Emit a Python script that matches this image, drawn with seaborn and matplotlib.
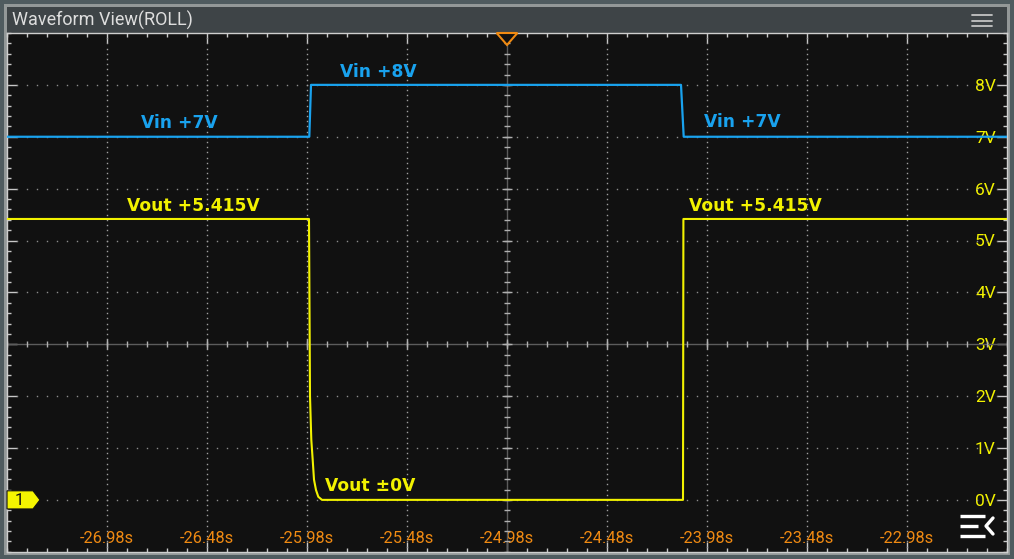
import numpy as np
import pandas as pd
import matplotlib.pyplot as plt
import seaborn as sns
from matplotlib.patches import Rectangle, Polygon
from matplotlib.lines import Line2D

# Trace breakpoints (time in s, level in V)
vin_time = [-27.48, -25.9685, -25.960, -24.110, -24.0965, -22.48]
vin_volts = [7.0, 7.0, 8.0, 8.0, 7.0, 7.0]

vout_time = [-27.48, -25.970, -25.965, -25.9585, -25.9515, -25.945,
             -25.935, -25.9235, -25.905, -24.100, -24.098, -22.48]
vout_volts = [5.415, 5.415, 2.0, 1.16, 0.77, 0.39,
              0.19, 0.06, 0.0, 0.0, 5.415, 5.415]

x_tick_values = [-26.98, -26.48, -25.98, -25.48, -24.98, -24.48, -23.98, -23.48, -22.98]
x_tick_labels = ["-26.98s", "-26.48s", "-25.98s", "-25.48s", "-24.98s",
                 "-24.48s", "-23.98s", "-23.48s", "-22.98s"]
y_tick_values = [0, 1, 2, 3, 4, 5, 6, 7, 8]
y_tick_labels = ["0V", "1V", "2V", "3V", "4V", "5V", "6V", "7V", "8V"]

T_MIN, T_MAX = -27.48, -22.48
V_MIN, V_MAX = -1.0, 9.0
T_CENTER, V_CENTER = -24.98, 3.0

VIN_COLOR = "#19a2ee"
VOUT_COLOR = "#f2f200"
TICK_ORANGE = "#f08a12"
GRID_GRAY = "#8c8c8c"

sns.set_theme(style="dark")
plt.rcParams["font.family"] = ["Roboto", "DejaVu Sans"]

W, H = 1014, 559


def fx(p):
    return p / W


def fy(p):
    return 1 - p / H


fig = plt.figure(figsize=(W / 100, H / 100), dpi=100, facecolor="#4f5b5f")

# screen frame + title bar (kept behind the axes)
fig.patches.append(Rectangle((fx(4), fy(555)), 1006 / W, 551 / H, transform=fig.transFigure,
                             facecolor="#939898", edgecolor="none", zorder=-3))
fig.patches.append(Rectangle((fx(7), fy(33)), 1000 / W, 26 / H, transform=fig.transFigure,
                             facecolor="#3e4447", edgecolor="none", zorder=-2))
fig.text(fx(12), fy(20), "Waveform View(ROLL)", color="#dedede", fontsize=13,
         va="center", ha="left", family="Roboto")
for yy in (15, 20.5, 26):
    fig.add_artist(Line2D([fx(972), fx(992)], [fy(yy), fy(yy)], color="#c4c4c4", lw=1.3))

ax = fig.add_axes([fx(7), fy(551.75), 1000 / W, 518.75 / H])
ax.set_facecolor("#111111")
ax.set_xlim(T_MIN, T_MAX)
ax.set_ylim(V_MIN, V_MAX)

# dotted graticule
grid_t = np.round(np.arange(T_MIN, T_MAX + 1e-9, 0.05), 3)
grid_v = np.round(np.arange(V_MIN, V_MAX + 1e-9, 0.1), 3)
for v in y_tick_values:
    if v == V_CENTER:
        continue
    ax.plot(grid_t, np.full_like(grid_t, v), ls="none", marker="s", ms=1.0,
            mew=0, color=GRID_GRAY, zorder=1)
for t in x_tick_values:
    if t == T_CENTER:
        continue
    ax.plot(np.full_like(grid_v, t), grid_v, ls="none", marker="s", ms=1.0,
            mew=0, color="#a0a0a0", zorder=1)

# centre cross with its own ticks
ax.axvline(T_CENTER, color="#5c5c5c", lw=1, zorder=1)
ax.axhline(V_CENTER, color="#5c5c5c", lw=1, zorder=1)
minor_t = np.round(np.arange(T_MIN, T_MAX + 1e-9, 0.1), 3)
minor_v = np.round(np.arange(V_MIN, V_MAX + 1e-9, 0.2), 3)
ax.plot(minor_t, np.full_like(minor_t, V_CENTER), ls="none", marker="|", ms=4,
        mew=1, color="#b0b0b0", zorder=1)
ax.plot(x_tick_values, [V_CENTER] * len(x_tick_values), ls="none", marker="|", ms=7,
        mew=1, color="#b0b0b0", zorder=1)
ax.plot(np.full_like(minor_v, T_CENTER), minor_v, ls="none", marker="_", ms=4,
        mew=1, color="#b0b0b0", zorder=1)
ax.plot([T_CENTER] * len(y_tick_values), y_tick_values, ls="none", marker="_", ms=7,
        mew=1, color="#b0b0b0", zorder=1)

# traces
vin_df = pd.DataFrame({"time": vin_time, "volts": vin_volts})
vout_df = pd.DataFrame({"time": vout_time, "volts": vout_volts})
sns.lineplot(data=vin_df, x="time", y="volts", ax=ax, color=VIN_COLOR, lw=1.6,
             sort=False, estimator=None, zorder=4)
sns.lineplot(data=vout_df, x="time", y="volts", ax=ax, color=VOUT_COLOR, lw=1.5,
             sort=False, estimator=None, zorder=3)

# annotations
ann = dict(fontsize=12.3, fontweight="bold", family="DejaVu Sans", ha="left", va="center", zorder=5)
ax.text(-25.815, 8.25, "Vin +8V", color=VIN_COLOR, **ann)
ax.text(-26.81, 7.27, "Vin +7V", color=VIN_COLOR, **ann)
ax.text(-23.995, 7.29, "Vin +7V", color=VIN_COLOR, **ann)
ax.text(-26.88, 5.67, "Vout +5.415V", color=VOUT_COLOR, **ann)
ax.text(-24.07, 5.67, "Vout +5.415V", color=VOUT_COLOR, **ann)
ax.text(-25.89, 0.27, "Vout \u00b10V", color=VOUT_COLOR, **ann)

# edge ticks and labels
ax.set_xticks(x_tick_values)
ax.set_xticklabels(x_tick_labels)
ax.set_yticks(y_tick_values)
ax.set_yticklabels(y_tick_labels)
ax.set_xticks(minor_t, minor=True)
ax.set_yticks(minor_v, minor=True)
ax.yaxis.tick_right()
ax.tick_params(which="both", direction="in", top=True, bottom=True, left=True, right=True,
               color="#c8c8c8", width=1)
ax.tick_params(which="major", length=7)
ax.tick_params(which="minor", length=3)
ax.tick_params(axis="x", which="major", labelbottom=True, labeltop=False, pad=-15,
               labelcolor=TICK_ORANGE, labelsize=11.8)
ax.tick_params(axis="y", which="major", labelleft=False, labelright=True, pad=-8,
               labelcolor="#f2f200", labelsize=12.5)
plt.setp(ax.get_yticklabels(), ha="right")
ax.set_xlabel("")
ax.set_ylabel("")
ax.grid(False)
for sp in ax.spines.values():
    sp.set_color("#cfcfcf")
    sp.set_linewidth(1)

# trigger marker at the top
ax.add_patch(Polygon([[T_CENTER - 0.052, V_MAX], [T_CENTER + 0.052, V_MAX], [T_CENTER, 8.77]],
                     closed=True, facecolor="#111111", edgecolor="#f08a12", lw=1.5,
                     zorder=6, clip_on=False))

# channel 1 level marker
ax.add_patch(Polygon([[-27.48, 0.175], [-27.35, 0.175], [-27.315, 0.0],
                      [-27.35, -0.175], [-27.48, -0.175]],
                     closed=True, facecolor="#f5f500", edgecolor="#111111", lw=0.8,
                     zorder=6, clip_on=False))
ax.text(-27.42, -0.01, "1", color="#111111", fontsize=12, ha="center", va="center",
        family="Roboto", zorder=7)

# menu icon bottom right
for y0, x1 in ((516, 985), (526, 978), (536, 985)):
    fig.add_artist(Line2D([fx(960), fx(x1)], [fy(y0), fy(y0)], color="white", lw=2.4,
                          solid_capstyle="butt"))
fig.add_artist(Line2D([fx(993), fx(986), fx(993)], [fy(518), fy(526), fy(534)],
                      color="white", lw=2.4))

fig.savefig("out.png", dpi=100, facecolor=fig.get_facecolor())
